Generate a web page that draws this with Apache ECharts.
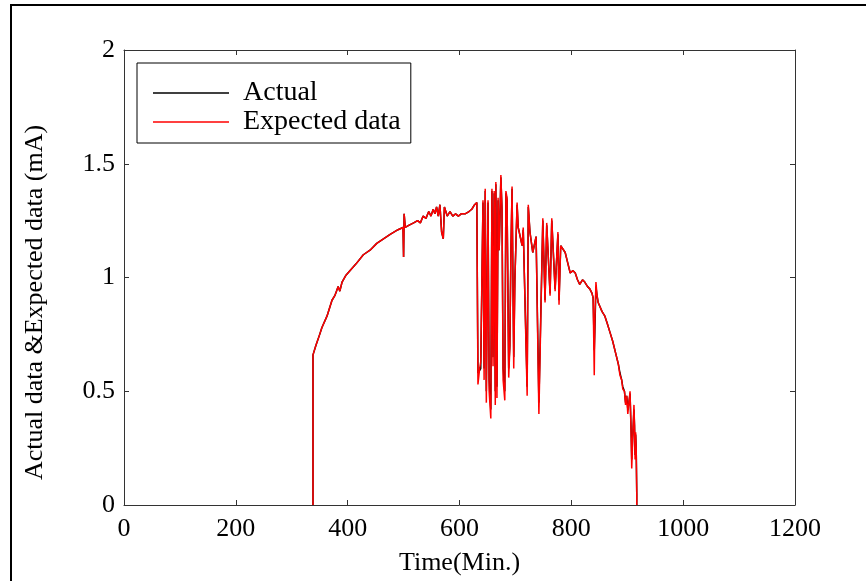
<!DOCTYPE html>
<html lang="en">
<head>
    <meta charset="UTF-8">
    <title>Actual vs Expected</title>
    <script src="https://cdn.jsdelivr.net/npm/echarts@6/dist/echarts.min.js"></script>
    <style>
        body { padding: 0; margin: 0; background: #fff; }
        #chart { width: 866px; height: 581px; }
    </style>
</head>
<body>
    <div id="chart"></div>

    <script>
        // time in minutes, shared by both series
        const timeMin = [
            338, 338, 343, 350, 354, 363, 372, 377, 380, 383, 386, 390, 397, 404, 415, 428, 440, 452, 464,
            476, 490, 499, 500, 501, 503, 510, 518, 525, 530, 535, 540, 545, 549, 553, 556, 559, 562, 565, 568,
            571, 573, 578, 583, 588, 593, 598, 603, 610, 617, 622, 627, 631, 633, 636, 638, 642, 644, 646, 648, 651, 653, 656,
            658, 660, 662, 664, 665, 667, 669, 671, 674, 676, 678, 681, 683, 685, 688, 690, 692, 694, 697, 699, 703, 705, 712, 714, 721,
            723, 726, 731, 737, 742, 749, 753, 756, 762, 765, 771, 776, 778, 781, 789, 793, 798, 803, 807, 811,
            815, 820, 824, 829, 833, 837, 839, 841, 842, 844, 846, 848, 855, 860, 864, 869, 874, 880, 884, 887,
            890, 892, 895, 897, 899, 901, 903, 905, 907, 908, 910, 912, 913, 914, 915, 916, 917, 917
        ];
        const expected = [
            0, 0.66, 0.70, 0.75, 0.78, 0.83, 0.90, 0.92, 0.94, 0.96, 0.94, 0.98, 1.01, 1.03, 1.06, 1.10, 1.12, 1.15, 1.17,
            1.19, 1.21, 1.22, 1.09, 1.28, 1.22, 1.23, 1.24, 1.25, 1.24, 1.27, 1.26, 1.29, 1.27, 1.30, 1.28, 1.31, 1.27, 1.32, 1.20,
            1.17, 1.31, 1.27, 1.29, 1.27, 1.28, 1.27, 1.28, 1.28, 1.29, 1.30, 1.32, 1.33, 0.53, 0.60, 0.63, 1.34, 0.55, 1.39, 0.45, 1.34, 0.50, 0.38,
            1.39, 0.61, 1.38, 0.44, 1.42, 0.47, 1.35, 1.12, 1.45, 1.30, 0.55, 0.46, 1.38, 1.35, 0.56, 0.69, 1.12, 1.40, 0.60, 0.98, 1.33, 1.22, 1.14, 1.22, 0.48,
            1.32, 1.20, 1.11, 1.18, 0.40, 1.26, 0.89, 1.24, 0.92, 1.26, 0.94, 1.20, 0.88, 1.14, 1.11, 1.07, 1.02, 1.03, 1.02, 0.99,
            0.97, 0.99, 0.98, 0.96, 0.95, 0.93, 0.91, 0.57, 0.80, 0.98, 0.92, 0.89, 0.85, 0.83, 0.80, 0.76, 0.72, 0.66, 0.62, 0.57,
            0.55, 0.51, 0.50, 0.44, 0.48, 0.40, 0.45, 0.50, 0.30, 0.16, 0.31, 0.44, 0.35, 0.20, 0.32, 0.25, 0.05, 0
        ];
        const actual = [
            0, 0.66, 0.70, 0.75, 0.78, 0.83, 0.90, 0.92, 0.94, 0.96, 0.94, 0.98, 1.01, 1.03, 1.06, 1.10, 1.12, 1.15, 1.17,
            1.19, 1.21, 1.22, 1.09, 1.28, 1.22, 1.23, 1.24, 1.25, 1.24, 1.27, 1.26, 1.29, 1.27, 1.30, 1.28, 1.31, 1.27, 1.32, 1.20,
            1.17, 1.31, 1.27, 1.29, 1.27, 1.28, 1.27, 1.28, 1.28, 1.29, 1.30, 1.32, 1.33, 0.58, 0.58, 0.60, 1.33, 0.60, 1.38, 0.50, 1.33, 0.55, 0.42,
            1.38, 0.65, 1.37, 0.50, 1.41, 0.52, 1.34, 1.12, 1.44, 1.30, 0.60, 0.50, 1.37, 1.34, 0.60, 0.70, 1.12, 1.39, 0.65, 0.99, 1.32, 1.22, 1.14, 1.21, 0.52,
            1.31, 1.20, 1.11, 1.18, 0.45, 1.25, 0.90, 1.23, 0.93, 1.25, 0.95, 1.19, 0.90, 1.14, 1.11, 1.07, 1.02, 1.03, 1.02, 0.99,
            0.97, 0.99, 0.98, 0.96, 0.95, 0.93, 0.91, 0.68, 0.76, 0.96, 0.92, 0.89, 0.85, 0.83, 0.80, 0.76, 0.72, 0.66, 0.62, 0.58,
            0.55, 0.52, 0.50, 0.45, 0.48, 0.42, 0.45, 0.49, 0.32, 0.20, 0.31, 0.42, 0.35, 0.22, 0.31, 0.25, 0.05, 0
        ];
        const seriesNames = ['Actual', 'Expected data'];

        const font = 'Liberation Serif';
        const chart = echarts.init(document.getElementById('chart'));

        function tickIn() {
            return { show: true, inside: true, length: 5, lineStyle: { color: '#333', width: 1 } };
        }
        function axLine() {
            // onZero off, otherwise the top/right copies jump onto the zero line
            return { show: true, onZero: false, lineStyle: { color: '#333', width: 1 } };
        }

        chart.setOption({
            animation: false,
            grid: { left: 124, right: 71, top: 50, bottom: 74 },
            legend: {
                orient: 'vertical',
                left: 137, top: 63,
                padding: [16, 10, 7, 16],
                itemGap: 1,
                itemWidth: 76, itemHeight: 1.5,
                icon: 'rect',
                borderColor: '#000', borderWidth: 1,
                textStyle: { fontFamily: font, fontSize: 28, color: '#000', padding: [0, 0, 0, 9] },
                data: seriesNames
            },
            xAxis: [{
                type: 'value', min: 0, max: 1200, interval: 200,
                name: 'Time(Min.)', nameLocation: 'middle', nameGap: 45,
                nameTextStyle: { fontFamily: font, fontSize: 26, color: '#000' },
                axisLine: axLine(), axisTick: tickIn(), splitLine: { show: false },
                axisLabel: { fontFamily: font, fontSize: 26, color: '#000', margin: 11, formatter: v => String(v) }
            }, {
                type: 'value', min: 0, max: 1200, interval: 200, position: 'top',
                axisLine: axLine(), axisTick: tickIn(), splitLine: { show: false },
                axisLabel: { show: false }
            }],
            yAxis: [{
                type: 'value', min: 0, max: 2, interval: 0.5,
                name: 'Actual data &Expected data (mA)', nameLocation: 'middle', nameGap: 76,
                nameTextStyle: { fontFamily: font, fontSize: 26, color: '#000', padding: [0, 50, 0, 0] },
                axisLine: axLine(), axisTick: tickIn(), splitLine: { show: false },
                axisLabel: { fontFamily: font, fontSize: 26, color: '#000', margin: 9 }
            }, {
                type: 'value', min: 0, max: 2, interval: 0.5, position: 'right',
                axisLine: axLine(), axisTick: tickIn(), splitLine: { show: false },
                axisLabel: { show: false }
            }],
            graphic: [{
                type: 'polyline',
                shape: { points: [[11, 581], [11, 5], [866, 5]] },
                style: { stroke: '#000', lineWidth: 2, fill: null }
            }],
            series: [{
                name: seriesNames[0], type: 'line', showSymbol: false,
                color: '#000',
                lineStyle: { width: 1.5, color: '#000' },
                data: timeMin.map((t, i) => [t, actual[i]])
            }, {
                name: seriesNames[1], type: 'line', showSymbol: false,
                color: '#ff0000',
                lineStyle: { width: 1.5, color: '#ff0000' },
                data: timeMin.map((t, i) => [t, expected[i]])
            }]
        });
    </script>
</body>
</html>
